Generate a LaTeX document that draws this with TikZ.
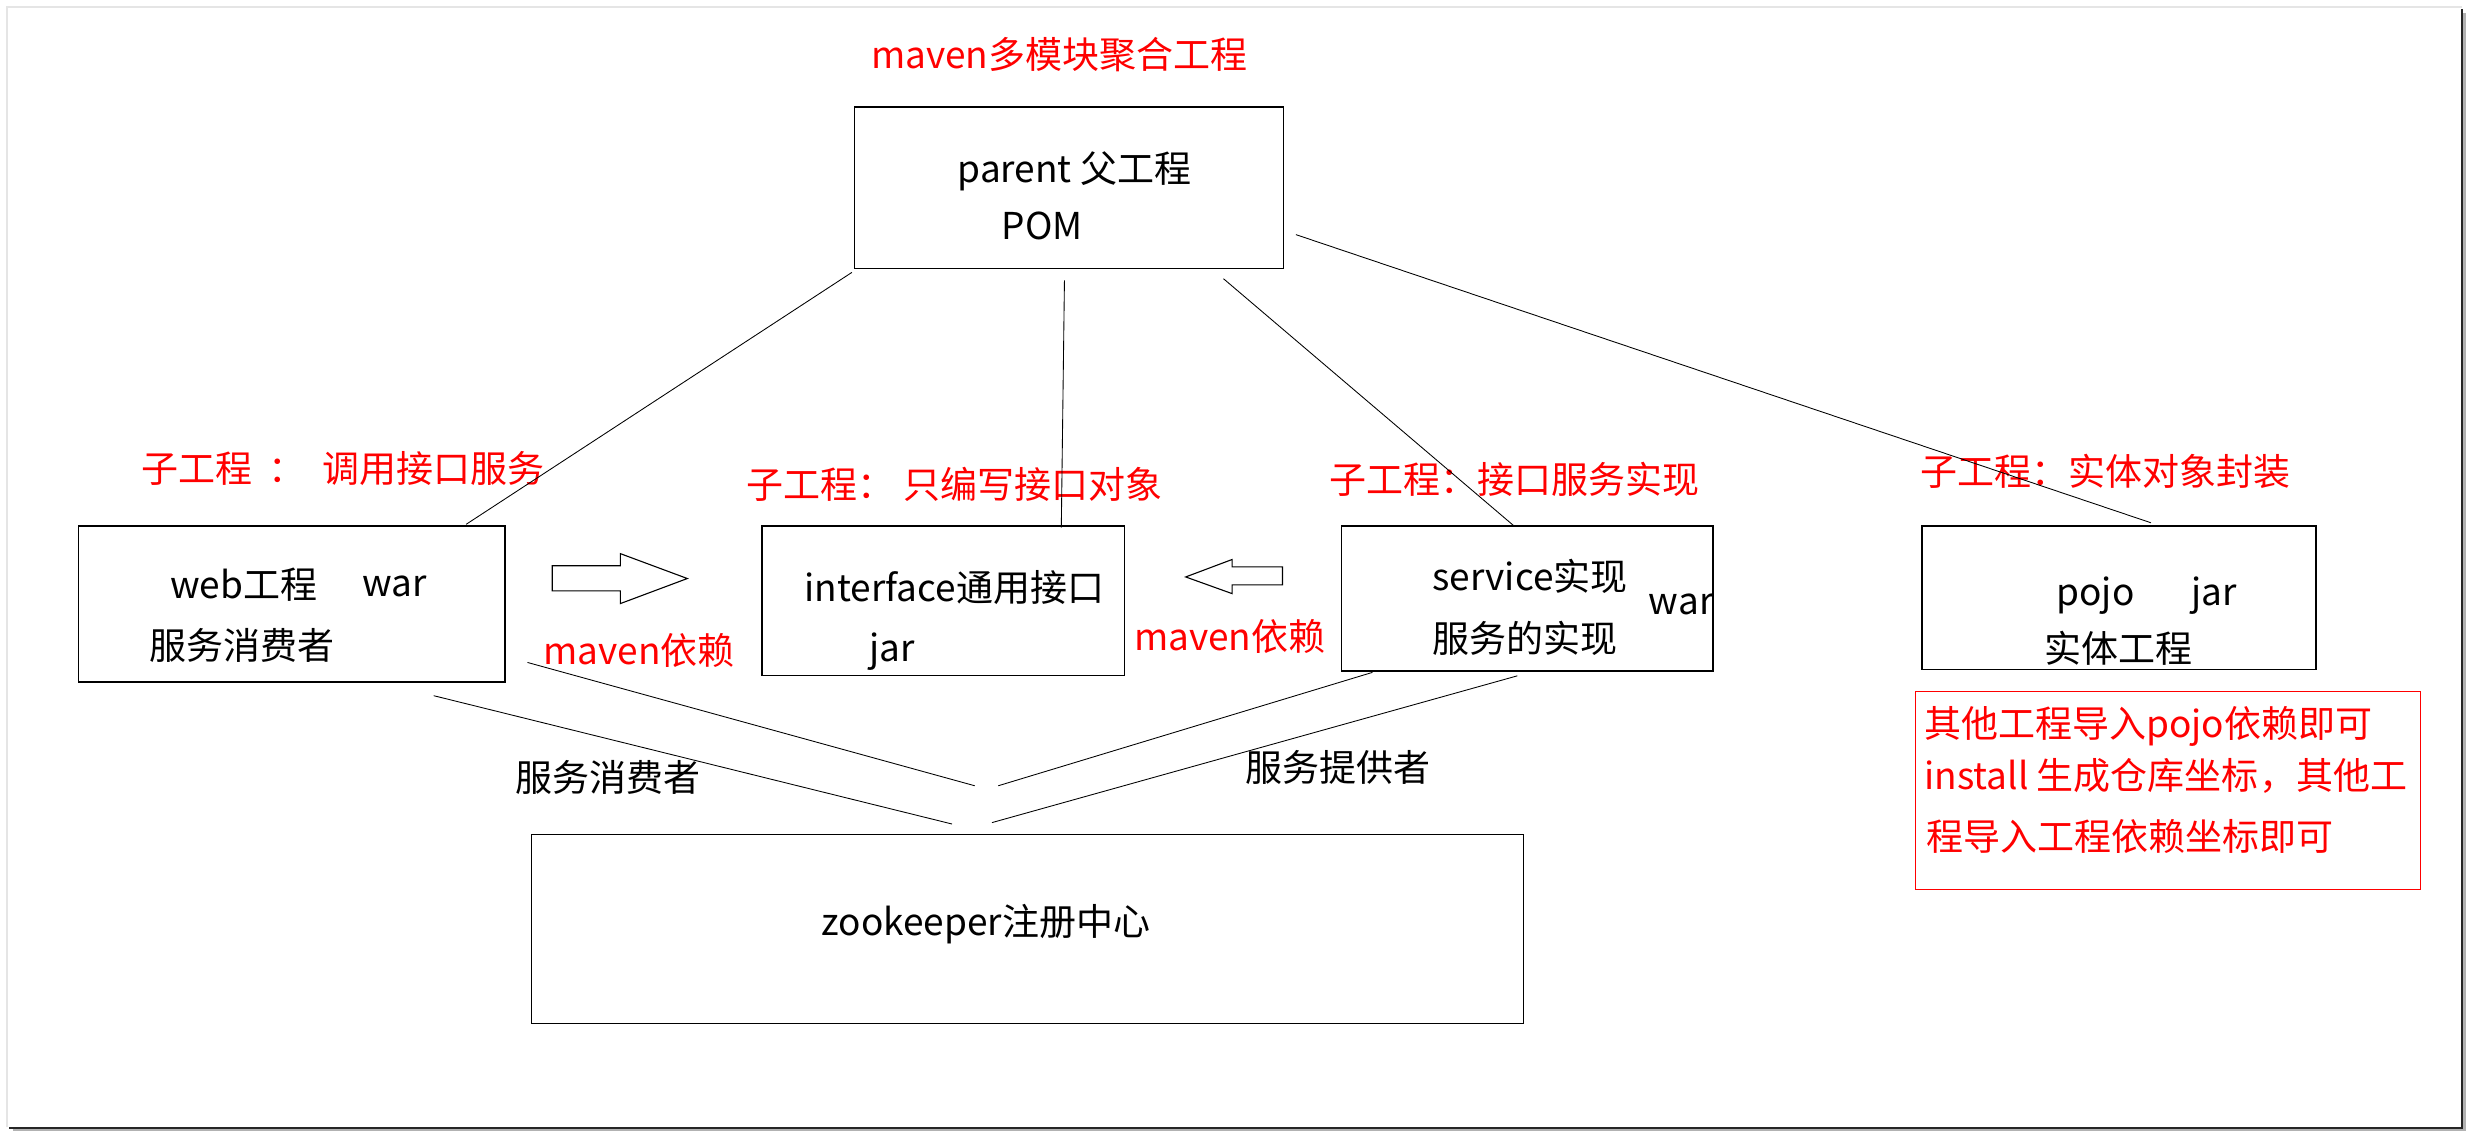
\documentclass[tikz,border=0pt]{standalone}
\usepackage{fontspec}
\setmainfont{Noto Sans CJK SC}
\definecolor{labred}{RGB}{255,0,0}
\begin{document}
\begin{tikzpicture}[x=1pt,y=-1pt,
  box/.style={draw=black,line width=0.9pt,inner sep=0pt},
  txt/.style={anchor=west,inner sep=0pt,font=\fontsize{23.5}{28}\selectfont,text height=0.8em,text depth=0.2em,yshift=-5pt},
  redtxt/.style={txt,text=labred},
  link/.style={draw=black,line width=0.55pt},
  blockarrow/.style={draw=black,line width=0.7pt,fill=white}]
\useasboundingbox (0,0) rectangle (1568,720.8);
% frame
\draw[black!10,line width=1pt] (4.5,716) -- (4.5,4.5) -- (1563.6,4.5);
\draw[black!30,line width=1.5pt] (8,717.8) -- (1565.1,717.8) -- (1565.1,8);
\draw[black!85,line width=1.4pt] (6,716.3) -- (1563.6,716.3) -- (1563.6,6);
% boxes
\node[box,minimum width=272.5pt,minimum height=102.4pt] (parent) at (678.75,119.2) {};
\node[box,minimum width=270.7pt,minimum height=99pt] (web) at (185.35,383.5) {};
\node[box,minimum width=230pt,minimum height=95pt] (iface) at (599,381.5) {};
\node[box,minimum width=236pt,minimum height=92pt] (service) at (970,380) {};
\node[box,minimum width=250.2pt,minimum height=91pt] (pojo) at (1345.6,379.5) {};
\node[box,minimum width=630pt,minimum height=120pt] (zk) at (652.6,590) {};
\node[draw=labred,line width=0.7pt,minimum width=320.4pt,minimum height=125.3pt,inner sep=0pt] (note) at (1376.8,502) {};
% texts
\node[redtxt] (title) at (553,35.4) {maven多模块聚合工程};
\node[txt] (ptxt1) at (608,108) {parent 父工程};
\node[txt] (ptxt2) at (636,144) {POM};
\node[txt] (wtxt1) at (108,372) {web工程};
\node[txt] (wtxt2) at (230,371) {war};
\node[txt] (wtxt3) at (94.9,411) {服务消费者};
\node[txt] (itxt1) at (510.8,374) {interface通用接口};
\node[txt] (itxt2) at (552,412) {jar};
\node[txt] (stxt1) at (909.5,367) {service实现};
\node[txt] (stxt2) at (1047,382) {war};
\node[txt] (stxt3) at (909.5,406.3) {服务的实现};
\node[txt] (ptx1) at (1305.8,376.5) {pojo};
\node[txt] (ptx2) at (1391.5,376.5) {jar};
\node[txt] (ptx3) at (1298,412.5) {实体工程};
\node[txt] (zktxt) at (521.6,586) {zookeeper注册中心};
\node[redtxt] (lab1) at (89.5,298.5) {子工程\hspace{0.45em}：\hspace{0.45em}调用接口服务};
\node[redtxt] (lab2) at (474,308.5) {子工程：\hspace{0.25em}只编写接口对象};
\node[redtxt] (lab3) at (844,305.6) {子工程：接口服务实现};
\node[redtxt] (lab4) at (1219.5,300.5) {子工程：实体对象封装};
\node[redtxt] (dep1) at (345,414) {maven依赖};
\node[redtxt] (dep2) at (720,405) {maven依赖};
\node[txt] (cons) at (327,494.7) {服务消费者};
\node[txt] (prov) at (790.6,488) {服务提供者};
\node[redtxt] (n1) at (1221.7,460.5) {其他工程导入pojo依赖即可};
\node[redtxt] (n2) at (1222,493.3) {install 生成仓库坐标，其他工};
\node[redtxt] (n3) at (1223,532.3) {程导入工程依赖坐标即可};
% connector end points
\coordinate (p1) at (541,173);   \coordinate (w1) at (296,333);
\coordinate (p2) at (676,178);   \coordinate (i1) at (674,335);
\coordinate (p3) at (777,177);   \coordinate (s1) at (961.5,334);
\coordinate (p4) at (823,149);   \coordinate (j1) at (1366,332);
\coordinate (wa) at (275.4,441.8); \coordinate (za) at (604.6,523.3);
\coordinate (wb) at (335,420.7);   \coordinate (zb) at (619,499);
\coordinate (sc) at (871.6,427);   \coordinate (zc) at (634,499);
\coordinate (sd) at (963.6,429.2); \coordinate (zd) at (630,522.4);
\draw[link] (p1) -- (w1);
\draw[link] (p2) -- (i1);
\draw[link] (p3) -- (s1);
\draw[link] (p4) -- (j1);
\draw[link] (wa) -- (za);
\draw[link] (wb) -- (zb);
\draw[link] (sc) -- (zc);
\draw[link] (sd) -- (zd);
% block arrows
\draw[blockarrow] (350.7,359.3) -- (394,359.3) -- (394,351.6) -- (436.5,367.4) -- (394,383.3) -- (394,375.2) -- (350.7,375.2) -- cycle;
\draw[blockarrow] (814.5,360) -- (782.5,360) -- (782.5,355.3) -- (753,366.4) -- (782.5,377) -- (782.5,371.4) -- (814.5,371.4) -- cycle;
\end{tikzpicture}
\end{document}
